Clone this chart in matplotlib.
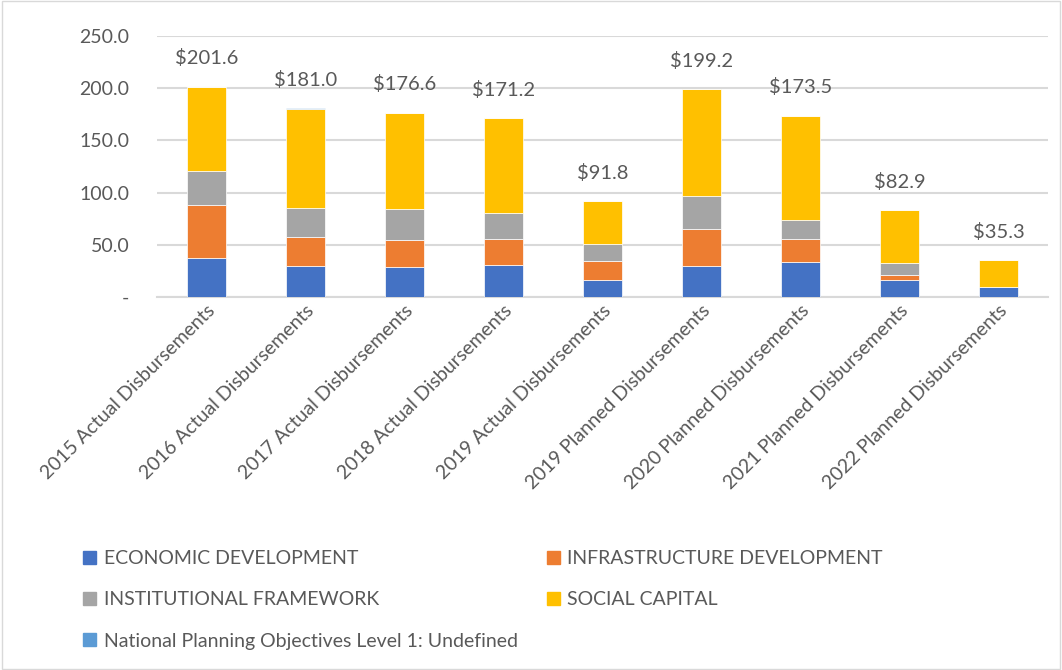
import matplotlib
matplotlib.use("Agg")
import matplotlib.pyplot as plt
from matplotlib.patches import Patch, Rectangle
import numpy as np

plt.rcParams["font.family"] = ["Lato", "DejaVu Sans"]

categories = [
    "2015 Actual Disbursements",
    "2016 Actual Disbursements",
    "2017 Actual Disbursements",
    "2018 Actual Disbursements",
    "2019 Actual Disbursements",
    "2019 Planned Disbursements",
    "2020 Planned Disbursements",
    "2021 Planned Disbursements",
    "2022 Planned Disbursements",
]
economic = [37.0, 29.7, 28.4, 30.3, 16.6, 29.3, 33.2, 16.6, 9.6]
infrastructure = [51.6, 27.4, 26.4, 25.2, 17.8, 35.8, 22.3, 4.8, 0.0]
institutional = [31.9, 28.0, 29.1, 24.9, 16.6, 31.2, 17.8, 10.8, 0.0]
social = [81.1, 95.4, 92.7, 90.8, 40.8, 102.9, 100.2, 50.7, 25.7]
undefined = [0.0, 0.5, 0.0, 0.0, 0.0, 0.0, 0.0, 0.0, 0.0]
totals = [201.6, 181.0, 176.6, 171.2, 91.8, 199.2, 173.5, 82.9, 35.3]

series = [
    ("ECONOMIC DEVELOPMENT", economic, "#4472C4"),
    ("INFRASTRUCTURE DEVELOPMENT", infrastructure, "#ED7D31"),
    ("INSTITUTIONAL FRAMEWORK", institutional, "#A5A5A5"),
    ("SOCIAL CAPITAL", social, "#FFC000"),
    ("National Planning Objectives Level 1: Undefined", undefined, "#5B9BD5"),
]

text_col = "#595959"
grid_col = "#D9D9D9"

fig = plt.figure(figsize=(10.62, 6.70), dpi=100)
ax = fig.add_axes([0.148, 0.5567, 0.839, 0.3896])

x = np.arange(len(categories))
bottom = np.zeros(len(categories))
for name, vals, col in series:
    vals = np.array(vals)
    ax.bar(x, vals, 0.4, bottom=bottom, color=col, edgecolor="white",
           linewidth=0.5, label=name, zorder=3)
    bottom += vals

# total labels above each stack
for xi, t, b in zip(x, totals, bottom):
    ax.annotate(f"${t:.1f}", (xi, b), xytext=(0, 14), textcoords="offset points",
                ha="center", va="bottom", fontsize=14.5, color=text_col)

ax.set_xlim(-0.5, len(categories) - 0.5)
ax.set_ylim(0, 250)
ax.set_yticks([0, 50, 100, 150, 200, 250])
ax.set_yticklabels(["-" if v == 0 else f"{v:.1f}" for v in [0, 50, 100, 150, 200, 250]])
ax.yaxis.grid(True, color=grid_col, linewidth=1.5, zorder=0)
ax.set_axisbelow(True)
for s in ["top", "right", "left"]:
    ax.spines[s].set_visible(False)
ax.spines["bottom"].set_color(grid_col)
ax.spines["bottom"].set_linewidth(1.5)
ax.tick_params(axis="both", length=0, labelsize=14, labelcolor=text_col)
ax.tick_params(axis="y", pad=20)
ax.set_xticks(x)
ax.set_xticklabels(categories, rotation=45, ha="right", rotation_mode="anchor")

handles = [Patch(color=c) for _, _, c in series]
labels = [n for n, _, _ in series]
order = [0, 2, 4, 1, 3]  # row-major look with column-major fill
fig.legend([handles[i] for i in order], [labels[i] for i in order],
           ncol=2, loc="upper left", bbox_to_anchor=(0.062, 0.205),
           frameon=False, fontsize=14, labelcolor=text_col,
           handlelength=0.65, handleheight=0.65, handletextpad=0.4,
           columnspacing=1.5, labelspacing=1.25)

fig.patches.append(Rectangle((0.002, 0.002), 0.996, 0.996, transform=fig.transFigure,
                             fill=False, edgecolor=grid_col, linewidth=1))

fig.savefig("out.png", dpi=100)
